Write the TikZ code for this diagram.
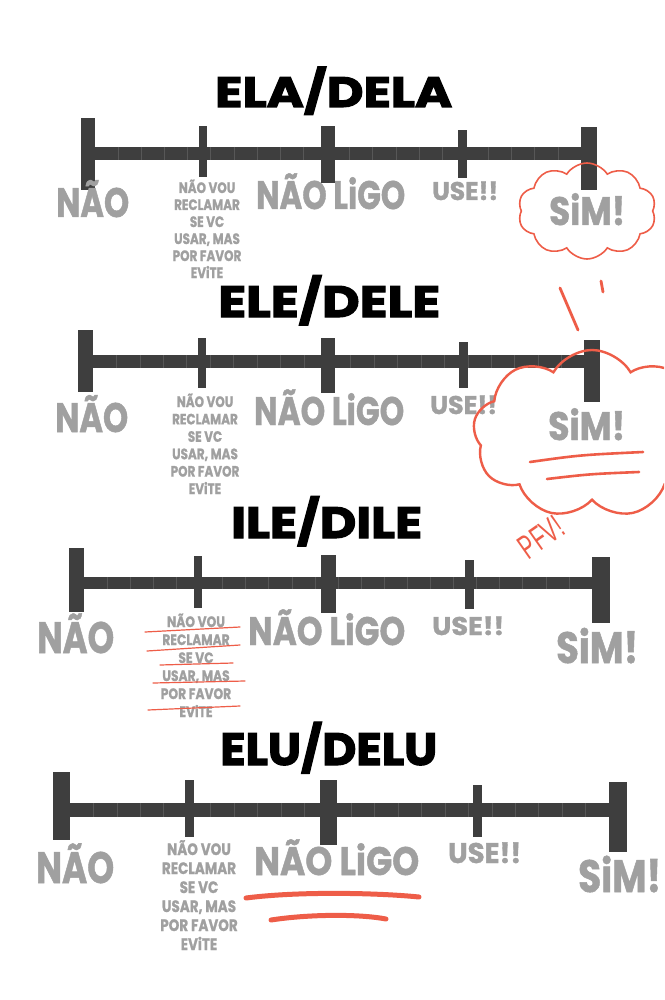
\documentclass[tikz,border=0pt]{standalone}
\usepackage{fontspec}
\setmainfont{Poppins}
\newfontfamily\heavy{Poppins}[FakeBold=2.5]
\newfontfamily\medium{Poppins}[FakeBold=1.2]
\newfontfamily\hand{Liberation Sans}
\usetikzlibrary{shapes.symbols}
\definecolor{barc}{HTML}{3E3E3E}
\definecolor{seamc}{HTML}{575757}
\definecolor{lblc}{HTML}{A0A0A0}
\definecolor{pen}{HTML}{EE5D48}
\newcommand\fitt[3]{\resizebox{#1}{#2}{\raisebox{0pt}[\fontcharht\font`\H][0pt]{#3}}}
\tikzset{
  barfill/.style={fill=barc},
  seamline/.style={draw=seamc, line width=0.6pt},
  ttl/.style={anchor=base west, inner sep=0pt, text=black, font=\heavy\bfseries\fontsize{40}{40}\selectfont},
  big/.style={anchor=base west, inner sep=0pt, text=lblc, font=\medium\bfseries\fontsize{40}{40}\selectfont},
  sm/.style={anchor=base, inner sep=0pt, text=lblc, font=\medium\bfseries\fontsize{15}{15}\selectfont},
  smb/.style={anchor=base, inner sep=0pt, text=lblc, font=\medium\bfseries\fontsize{16.5}{16.5}\selectfont},
  penline/.style={draw=pen, line cap=round},
  puffy/.style={cloud, cloud ignores aspect, draw=pen, inner sep=0pt},
}
\begin{document}
\begin{tikzpicture}[x=1pt,y=-1pt]
\useasboundingbox (0,0) rectangle (664,1000);
\fill[white] (0,0) rectangle (664,1000);

% ---------------- Timeline 1 : ELA/DELA
\node[ttl] (t1) at (215,107) {\fitt{237pt}{30pt}{ELA/DELA}};
\fill[barfill] (95,147) rectangle (581,160);
\foreach \k in {1,...,20} \draw[seamline] ({95+\k*(581-95)/21},147) -- ++(0,13);
\fill[barfill] (81,118) rectangle (95,190);
\fill[barfill] (199,126) rectangle (207,177);
\fill[barfill] (321,126) rectangle (335,183);
\fill[barfill] (458,130) rectangle (467,178);
\fill[barfill] (581,127) rectangle (597,190);
\node[big] (n1) at (56,217) {\fitt{73pt}{29pt}{NÃO}};
\node[big] (l1) at (256,209) {\fitt{149pt}{28pt}{NÃO LiGO}};
\node[big] (u1) at (432,200) {\fitt{66pt}{18pt}{USE!!}};
\node[big] (s1) at (549,225) {\fitt{76pt}{28pt}{SiM!}};
\foreach \t [count=\i] in {NÃO VOU,RECLAMAR,SE VC,{USAR, MAS},POR FAVOR,EViTE}
  \node[sm] (a\i) at ({207},{193+(\i-1)*17}) {\scalebox{0.8}[1]{\t}};
\node[puffy, cloud puffs=10, cloud puff arc=115, line width=1.6pt, minimum width=138pt, minimum height=96pt] (c1) at (587,211) {};

% ---------------- Timeline 2 : ELE/DELE
\node[ttl] (t2) at (218,317) {\fitt{222pt}{31pt}{ELE/DELE}};
\fill[barfill] (93,355) rectangle (585,368);
\foreach \k in {1,...,20} \draw[seamline] ({93+\k*(585-93)/21},355) -- ++(0,13);
\fill[barfill] (78,330) rectangle (93,392);
\fill[barfill] (198,338) rectangle (206,388);
\fill[barfill] (321,338) rectangle (335,393);
\fill[barfill] (459,342) rectangle (468,388);
\fill[barfill] (584,340) rectangle (600,402);
\node[big] (n2) at (55,432) {\fitt{73pt}{29pt}{NÃO}};
\node[big] (l2) at (254,425) {\fitt{150pt}{28pt}{NÃO LiGO}};
\node[big] (u2) at (430,414) {\fitt{67pt}{18pt}{USE!!}};
\node[big] (s2) at (548,440) {\fitt{77pt}{28pt}{SiM!}};
\foreach \t [count=\i] in {NÃO VOU,RECLAMAR,SE VC,{USAR, MAS},POR FAVOR,EViTE}
  \node[sm] (b\i) at ({205},{407+(\i-1)*17.4}) {\scalebox{0.8}[1]{\t}};
\begin{scope}
  \clip (0,0) rectangle (664,1000);
  \node[puffy, cloud puffs=9, cloud puff arc=120, line width=2.4pt, minimum width=238pt, minimum height=168pt] (c2) at (592,434) {};
\end{scope}
\draw[penline, line width=2.8pt] (560,288) -- (578,330);
\draw[penline, line width=2.8pt] (601,281) -- (603,292);
\draw[penline, line width=2.6pt] (530,462) .. controls (580,455) .. (643,452);
\draw[penline, line width=2.6pt] (547,479) .. controls (590,474) .. (639,472);
\node[text=pen, font=\hand\fontsize{34}{34}\selectfont, rotate=35, inner sep=0pt] (pfv) at (541,537) {\scalebox{0.62}[1]{PFV!}};

% ---------------- Timeline 3 : ILE/DILE
\node[ttl] (t3) at (231,538) {\fitt{191pt}{31pt}{ILE/DILE}};
\fill[barfill] (84,577) rectangle (592,589);
\foreach \k in {1,...,21} \draw[seamline] ({84+\k*(592-84)/22},577) -- ++(0,12);
\fill[barfill] (69,548) rectangle (84,612);
\fill[barfill] (194,556) rectangle (202,608);
\fill[barfill] (321,555) rectangle (336,613);
\fill[barfill] (465,560) rectangle (474,609);
\fill[barfill] (592,557) rectangle (610,623);
\node[big] (n3) at (37,653) {\fitt{77pt}{31pt}{NÃO}};
\node[big] (l3) at (248,645) {\fitt{157pt}{28pt}{NÃO LiGO}};
\node[big] (u3) at (432,635) {\fitt{72pt}{18pt}{USE!!}};
\node[big] (s3) at (556,663) {\fitt{82pt}{31pt}{SiM!}};
\foreach \t [count=\i] in {NÃO VOU,RECLAMAR,SE VC,{USAR, MAS},POR FAVOR,EViTE}
  \node[sm] (d\i) at ({196},{627+(\i-1)*18}) {\scalebox{0.82}[1]{\t}};
\draw[penline, line width=1.2pt] (145,632) -- (240,627);
\draw[penline, line width=1.2pt] (147,651) -- (240,645);
\draw[penline, line width=1.2pt] (160,665) -- (233,663);
\draw[penline, line width=1.2pt] (153,683) -- (245,681);
\draw[penline, line width=1.2pt] (148,710) -- (240,706);

% ---------------- Timeline 4 : ELU/DELU
\node[ttl] (t4) at (220,765) {\fitt{217pt}{32pt}{ELU/DELU}};
\fill[barfill] (70,803) rectangle (609,817);
\foreach \k in {1,...,22} \draw[seamline] ({70+\k*(609-70)/23},803) -- ++(0,14);
\fill[barfill] (53,772) rectangle (70,840);
\fill[barfill] (185,780) rectangle (194,837);
\fill[barfill] (320,780) rectangle (337,845);
\fill[barfill] (473,785) rectangle (482,837);
\fill[barfill] (609,782) rectangle (627,852);
\node[big] (n4) at (36,883) {\fitt{78pt}{31pt}{NÃO}};
\node[big] (l4) at (254,875) {\fitt{165pt}{28pt}{NÃO LiGO}};
\node[big] (u4) at (448,863) {\fitt{73pt}{20pt}{USE!!}};
\node[big] (s4) at (578,892) {\fitt{83pt}{32pt}{SiM!}};
\foreach \t [count=\i] in {NÃO VOU,RECLAMAR,SE VC,{USAR, MAS},POR FAVOR,EViTE}
  \node[smb] (e\i) at ({199},{855+(\i-1)*19}) {\scalebox{0.82}[1]{\t}};
\draw[penline, line width=5pt] (246,898) .. controls (300,891) and (380,893) .. (419,897);
\draw[penline, line width=5pt] (271,920) .. controls (310,914) and (360,914) .. (386,919);
\end{tikzpicture}
\end{document}
